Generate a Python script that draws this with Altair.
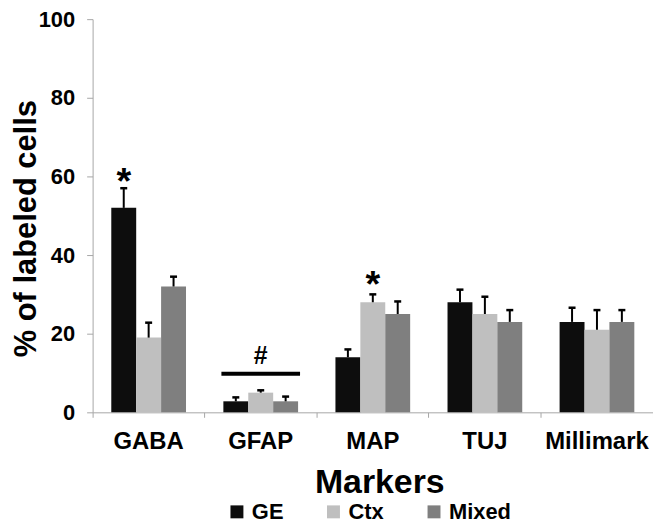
import altair as alt
import pandas as pd

markers = ["GABA", "GFAP", "MAP", "TUJ", "Millimark"]
groups = ["GE", "Ctx", "Mixed"]
colors = ["#0d0d0d", "#bfbfbf", "#7f7f7f"]

ge_mean = [52, 2.8, 14, 28, 23]
ge_err = [5, 1.0, 2.0, 3.2, 3.6]
ctx_mean = [19, 5, 28, 25, 21]
ctx_err = [3.8, 0.6, 2.0, 4.4, 5.0]
mixed_mean = [32, 2.8, 25, 23, 23]
mixed_err = [2.5, 1.2, 3.2, 3.0, 3.0]

# significance marks
star_marker = ["GABA", "MAP"]
star_group = ["GE", "Ctx"]
star_y = [58.3, 32]
hash_marker = ["GFAP"]
hash_y = [14.3]
line_y = [9.8]

rows = []
for g, means, errs in zip(groups, [ge_mean, ctx_mean, mixed_mean], [ge_err, ctx_err, mixed_err]):
    for m, v, e in zip(markers, means, errs):
        rows.append({"marker": m, "group": g, "value": v, "upper": v + e})
df = pd.DataFrame(rows)

stars = pd.DataFrame({"marker": star_marker, "group": star_group, "y": star_y, "t": ["*", "*"]})
hashes = pd.DataFrame({"marker": hash_marker, "y": hash_y, "line": line_y, "t": ["#"]})

FONT = "Liberation Sans"
AX = "#a6a6a6"

x_enc = alt.X("marker:N", sort=markers,
              scale=alt.Scale(paddingInner=0, paddingOuter=0),
              axis=alt.Axis(title="Markers", titleFont=FONT, titleFontSize=34, titleFontWeight="bold",
                            titleColor="black", titleX=288, titleY=54, titleBaseline="top", titleAlign="center",
                            labelAngle=0, labelFont=FONT, labelFontSize=24, labelFontWeight="bold",
                            labelColor="black", labelPadding=12,
                            bandPosition=1, tickExtra=True, tickSize=5,
                            domainColor=AX, tickColor=AX, grid=False))
x_plain = alt.X("marker:N", sort=markers)
xo = alt.XOffset("group:N", sort=groups, scale=alt.Scale(paddingInner=0, paddingOuter=0.75))

bars = alt.Chart(df).mark_bar().encode(
    x=x_enc,
    xOffset=xo,
    y=alt.Y("value:Q", scale=alt.Scale(domain=[0, 100], nice=False),
            axis=alt.Axis(values=[0, 20, 40, 60, 80, 100], title="% of labeled cells",
                          titleFont=FONT, titleFontSize=31, titleFontWeight="bold", titleColor="black",
                          titleX=-57, titleY=210, titleBaseline="alphabetic", titleAngle=270,
                          titleAlign="center",
                          labelFont=FONT, labelFontSize=22, labelFontWeight="bold", labelColor="black",
                          labelPadding=12, tickSize=6, domainColor=AX, tickColor=AX, grid=False)),
    color=alt.Color("group:N", sort=groups, scale=alt.Scale(domain=groups, range=colors),
                    legend=alt.Legend(title=None, orient="none", legendX=134, legendY=484,
                                      direction="horizontal", symbolType="square", symbolSize=169,
                                      symbolStrokeWidth=0, symbolOpacity=1,
                                      labelFont=FONT, labelFontSize=22, labelFontWeight="bold",
                                      labelColor="black", labelOffset=4, columnPadding=39))
)

err = alt.Chart(df).mark_rule(color="black", strokeWidth=2, opacity=1).encode(
    x=x_plain, xOffset=xo, y="value:Q", y2="upper:Q"
)
caps = alt.Chart(df).mark_tick(color="black", size=7, thickness=2.5, opacity=1).encode(
    x=x_plain, xOffset=xo, y="upper:Q"
)

star_text = alt.Chart(stars).mark_text(font=FONT, fontSize=38, fontWeight="bold",
                                       baseline="middle", color="black").encode(
    x=x_plain, xOffset=xo, y="y:Q", text="t:N"
)
hash_text = alt.Chart(hashes).mark_text(font=FONT, fontSize=25, fontWeight="bold",
                                        baseline="middle", color="black").encode(
    x=x_plain, y="y:Q", text="t:N"
)
hash_line = alt.Chart(hashes).mark_tick(color="black", size=79, thickness=4, opacity=1).encode(
    x=x_plain, y="line:Q"
)

chart = alt.layer(bars, err, caps, star_text, hash_line, hash_text).properties(
    width=563, height=395,
    autosize=alt.AutoSizeParams(type="none"),
    padding={"left": 85, "top": 10, "right": 0, "bottom": 111},
    background="white"
).configure_view(stroke=None)

chart.save("out.html", embed_options={"renderer": "svg", "actions": False})
